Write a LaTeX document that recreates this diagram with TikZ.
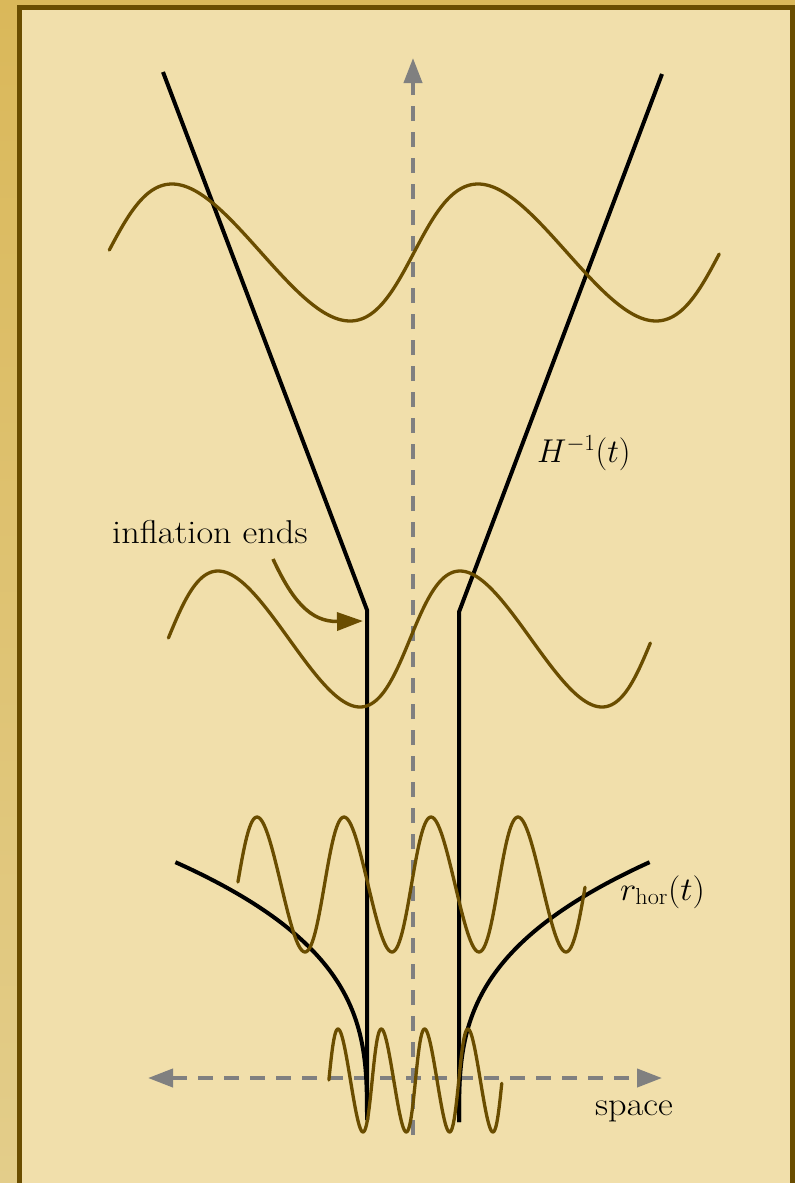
\RequirePackage{fix-cm}
\documentclass[tikz,border=0pt]{standalone}
\usetikzlibrary{arrows.meta}
\definecolor{gold}{HTML}{DAB85A}
\definecolor{goldlight}{HTML}{E3CD8A}
\definecolor{brownline}{HTML}{6A4D00}
\definecolor{cream}{HTML}{F1DFAB}
\definecolor{axisgray}{HTML}{808080}
\newcommand\mywave[7]{%
  \draw[wave] plot[domain=#6:#7, samples=260, variable=\t, smooth]
    ({#1 + #2/(2*pi)*\t + #3*(1-cos(\t r))}, {#4 - #5*cos(\t r)});}
\tikzset{
  wave/.style={draw=brownline, line width=3.3pt, line join=round, line cap=round},
  blackline/.style={draw=black, line width=4pt, line join=miter},
  axisline/.style={draw=axisgray, line width=4pt, dash pattern=on 15pt off 11pt},
  graytip/.style={-{Triangle[length=25pt,width=18pt]}},
  lbl/.style={inner sep=0pt, font=\fontsize{33}{38}\selectfont, text=black},
}
\begin{document}
\begin{tikzpicture}[x=1pt,y=-1pt]
\useasboundingbox (0,0) rectangle (795,1183);
% frame
\fill[gold] (0,0) rectangle (795,5);
\shade[top color=gold, bottom color=goldlight] (0,0) rectangle (17,1183);
\fill[brownline] (16.7,4.7) rectangle (795,1183);
\fill[cream] (22,9.7) rectangle (790,1183);
% axes
\coordinate (vb) at (413,1135);
\coordinate (vt) at (413,58);
\coordinate (hl) at (148,1078);
\coordinate (hr) at (662,1078);
\draw[axisline, graytip] (vb) -- (vt);
\draw[axisline, {Triangle[length=25pt,width=18pt]}-{Triangle[length=25pt,width=18pt]}] (hl) -- (hr);
% Hubble radius lines
\coordinate (Ltop) at (163,72);
\coordinate (Lkink) at (367,610);
\coordinate (Lbot) at (367,1120);
\coordinate (Rtop) at (662,74);
\coordinate (Rkink) at (459,612);
\coordinate (Rbot) at (459,1122);
\draw[blackline] (Ltop) -- (Lkink) -- (Lbot);
\draw[blackline] (Rtop) -- (Rkink) -- (Rbot);
% horizon curves
\draw[blackline] plot[domain=0:1, samples=60, variable=\x, smooth] ({367-192*\x^3},{1120-258*\x});
\draw[blackline] plot[domain=0:1, samples=60, variable=\x, smooth] ({459+191*\x^3},{1122-260*\x});
% waves
\mywave{172}{306}{12.5}{252.5}{68.5}{-1.535}{10.974}
\mywave{218}{242}{10.5}{639}{68}{-1.556}{10.937}
\mywave{257}{87}{2.25}{884.5}{67.5}{-1.534}{23.525}
\mywave{338}{43.3}{1.67}{1080.5}{51.5}{-1.56}{23.51}
% labels
\node[lbl, anchor=base west] (infl) at (112,543) {\scalebox{1.1}[1]{inflation ends}};
\node[lbl, anchor=base west] (hinv) at (537,462) {$H^{-1}(t)$};
\node[lbl, anchor=base west] (rhor) at (620,900) {\scalebox{1.05}[1]{$r_{\mathrm{hor}}(t)$}};
\node[lbl, anchor=base west] (space) at (595,1115) {\scalebox{1.1}[1]{space}};
% inflation arrow
\coordinate (ia) at (273,559);
\coordinate (iend) at (363,621);
\draw[draw=brownline, line width=3.5pt, -{Triangle[length=26pt,width=18pt]}] (ia) .. controls (292,600) and (310,622) .. (iend);
\end{tikzpicture}
\end{document}
